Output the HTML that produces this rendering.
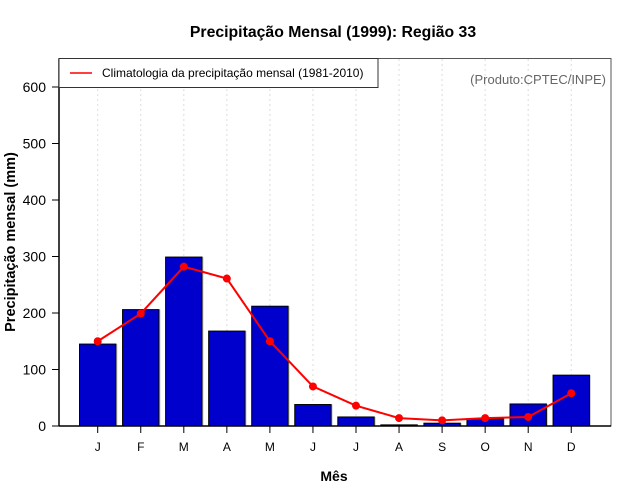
<!DOCTYPE html>
<html><head><meta charset="utf-8"><style>
html,body{margin:0;padding:0;background:#fff;}
svg{display:block;font-family:"Liberation Sans",sans-serif;}
</style></head><body>
<svg id="chart" width="640" height="500" viewBox="0 0 640 500">
<rect x="0" y="0" width="640" height="500" fill="#fff"/>
<text x="333" y="37" text-anchor="middle" font-size="15.8" font-weight="bold">Precipitação Mensal (1999): Região 33</text>
<g id="grid"></g>
<g id="bars"></g>
<g id="line"></g>
<rect x="59" y="58.5" width="552" height="367.5" fill="none" stroke="#555" stroke-width="1"/>
<line x1="59" y1="426" x2="611" y2="426" stroke="#000" stroke-width="1.5"/>
<line x1="59" y1="58.5" x2="59" y2="426" stroke="#000" stroke-width="1.5"/>
<g id="yaxis"></g>
<g id="xaxis"></g>
<text x="15" y="242" text-anchor="middle" font-size="14.5" font-weight="bold" transform="rotate(-90 15 242)">Precipitação mensal (mm)</text>
<text x="334" y="481" text-anchor="middle" font-size="14" font-weight="bold">Mês</text>
<g>
<rect x="59" y="58.5" width="319" height="29" fill="#fff" stroke="#333" stroke-width="1"/>
<line x1="70" y1="73" x2="92" y2="73" stroke="#f00" stroke-width="1.5"/>
<text x="102" y="77" font-size="12">Climatologia da precipitação mensal (1981-2010)</text>
</g>
<text x="606" y="84" text-anchor="end" font-size="13" fill="#666">(Produto:CPTEC/INPE)</text>
</svg>
<script>
const months = ["J","F","M","A","M","J","J","A","S","O","N","D"];
const precip1999 = [145, 206, 299, 168, 212, 38, 16, 2, 5, 13, 39, 90];
const climatology = [150, 199, 282, 261, 150, 70, 36, 14, 10, 14, 16, 58];
const yTicks = [0, 100, 200, 300, 400, 500, 600];

const NS = "http://www.w3.org/2000/svg";
const x0 = 97.7, dx = 43.05, barW = 36.4;
const xPos = i => x0 + i * dx;
const yPos = v => 426 - v * 0.565;
function mk(tag, attrs, parent) {
  const e = document.createElementNS(NS, tag);
  for (const k in attrs) e.setAttribute(k, attrs[k]);
  parent.appendChild(e);
  return e;
}
const grid = document.getElementById("grid");
const bars = document.getElementById("bars");
const line = document.getElementById("line");
const yaxis = document.getElementById("yaxis");
const xaxis = document.getElementById("xaxis");

months.forEach((m, i) => {
  const g = mk("line", {x1: xPos(i), x2: xPos(i), y1: 59, y2: 426, stroke: "#ddd", "stroke-dasharray": "2,3"}, grid);
  
  
  const t = mk("line", {x1: xPos(i), x2: xPos(i), y1: 426, y2: 433, stroke: "#000"}, xaxis);
  
  
  const l = mk("text", {x: xPos(i), y: 451, "text-anchor": "middle", "font-size": "12"}, xaxis);
  l.textContent = m;
  
  
});

precip1999.forEach((v, i) => {
  const sh = mk("rect", {x: xPos(i) - barW/2 + 1.5, y: yPos(v), width: barW, height: 426 - yPos(v), fill: "#ccc"}, bars);
  
  
  const b = mk("rect", {x: xPos(i) - barW/2, y: yPos(v), width: barW, height: 426 - yPos(v), fill: "#0000cd", stroke: "#000", "stroke-width": "1"}, bars);
  
  
});

const pts = climatology.map((v, i) => xPos(i) + "," + yPos(v)).join(" ");
const pl = mk("polyline", {points: pts, fill: "none", stroke: "#f00", "stroke-width": "2"}, line);


climatology.forEach((v, i) => {
  const c = mk("circle", {cx: xPos(i), cy: yPos(v), r: 4, fill: "#f00"}, line);
  
  
});

yTicks.forEach(v => {
  const t = mk("line", {x1: 52, x2: 59, y1: yPos(v), y2: yPos(v), stroke: "#000"}, yaxis);
  
  
  const l = mk("text", {x: 46, y: yPos(v) + 5, "text-anchor": "end", "font-size": "14"}, yaxis);
  l.textContent = v;
  
  
});
</script>
</body></html>
